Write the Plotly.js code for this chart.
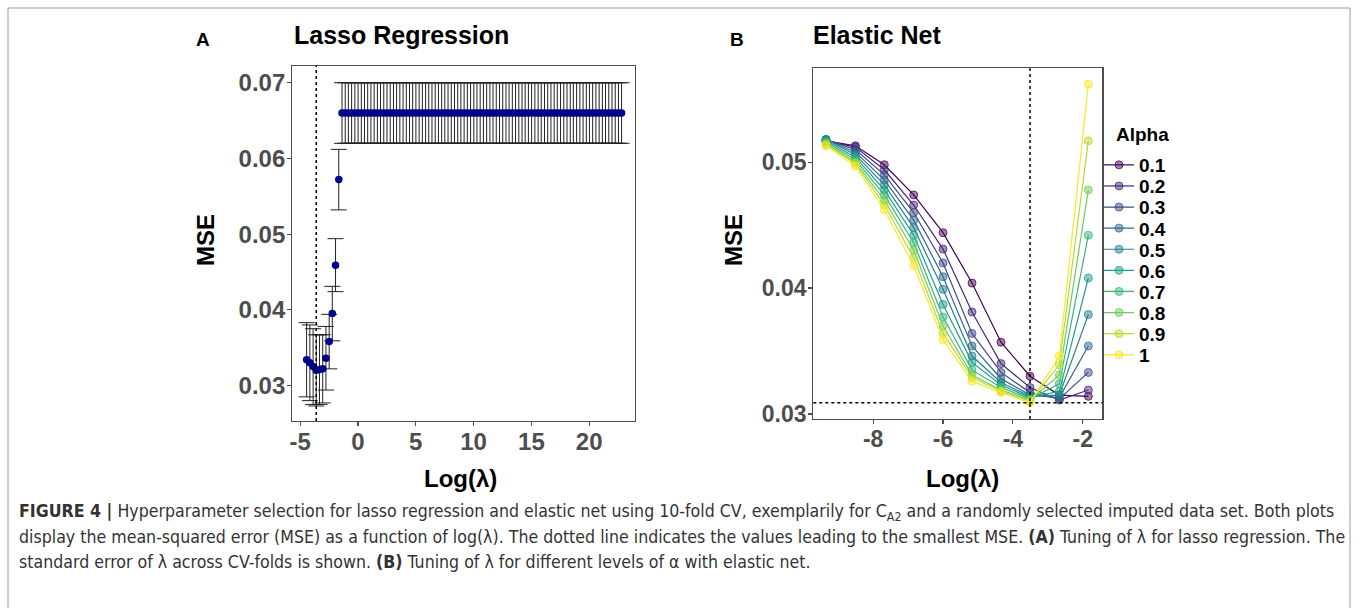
<!DOCTYPE html>
<html>
<head>
<meta charset="utf-8">
<script src="https://cdn.plot.ly/plotly-3.0.1.min.js"></script>
<style>
html,body{margin:0;padding:0;background:#fff;}
#chart{width:1358px;height:608px;}
</style>
</head>
<body>
<div id="chart"></div>
<script>
// ---------- Panel A: lasso regression (cv.glmnet) ----------
const lassoLogLambda = [-4.44,-4.16,-3.88,-3.61,-3.33,-3.05,-2.77,-2.49,-2.22,-1.94,-1.66,-1.38,-1.10,-0.83,-0.55,-0.27,0.01,0.29,0.56,0.84,
1.12,1.40,1.68,1.95,2.23,2.51,2.79,3.07,3.34,3.62,3.90,4.18,4.46,4.73,5.01,5.29,5.57,5.85,6.12,6.40,
6.68,6.96,7.24,7.51,7.79,8.07,8.35,8.63,8.90,9.18,9.46,9.74,10.02,10.29,10.57,10.85,11.13,11.41,11.68,11.96,
12.24,12.52,12.80,13.07,13.35,13.63,13.91,14.19,14.46,14.74,15.02,15.30,15.58,15.85,16.13,16.41,16.69,16.97,17.24,17.52,
17.80,18.08,18.36,18.63,18.91,19.19,19.47,19.75,20.02,20.30,20.58,20.86,21.14,21.41,21.69,21.97,22.25,22.53,22.80];
const lassoMSE = [0.0334,0.0330,0.0325,0.0320,0.0321,0.0322,0.0336,0.0358,0.0395,0.0459,0.0572,0.0660,0.0660,0.0660,0.0660,0.0660,0.0660,0.0660,0.0660,0.0660,
0.0660,0.0660,0.0660,0.0660,0.0660,0.0660,0.0660,0.0660,0.0660,0.0660,0.0660,0.0660,0.0660,0.0660,0.0660,0.0660,0.0660,0.0660,0.0660,0.0660,
0.0660,0.0660,0.0660,0.0660,0.0660,0.0660,0.0660,0.0660,0.0660,0.0660,0.0660,0.0660,0.0660,0.0660,0.0660,0.0660,0.0660,0.0660,0.0660,0.0660,
0.0660,0.0660,0.0660,0.0660,0.0660,0.0660,0.0660,0.0660,0.0660,0.0660,0.0660,0.0660,0.0660,0.0660,0.0660,0.0660,0.0660,0.0660,0.0660,0.0660,
0.0660,0.0660,0.0660,0.0660,0.0660,0.0660,0.0660,0.0660,0.0660,0.0660,0.0660,0.0660,0.0660,0.0660,0.0660,0.0660,0.0660,0.0660,0.0660];
const lassoSE = [0.0049,0.0050,0.0050,0.0047,0.0046,0.0045,0.0042,0.0036,0.0036,0.0035,0.0040,0.0040,0.0040,0.0040,0.0040,0.0040,0.0040,0.0040,0.0040,0.0040,
0.0040,0.0040,0.0040,0.0040,0.0040,0.0040,0.0040,0.0040,0.0040,0.0040,0.0040,0.0040,0.0040,0.0040,0.0040,0.0040,0.0040,0.0040,0.0040,0.0040,
0.0040,0.0040,0.0040,0.0040,0.0040,0.0040,0.0040,0.0040,0.0040,0.0040,0.0040,0.0040,0.0040,0.0040,0.0040,0.0040,0.0040,0.0040,0.0040,0.0040,
0.0040,0.0040,0.0040,0.0040,0.0040,0.0040,0.0040,0.0040,0.0040,0.0040,0.0040,0.0040,0.0040,0.0040,0.0040,0.0040,0.0040,0.0040,0.0040,0.0040,
0.0040,0.0040,0.0040,0.0040,0.0040,0.0040,0.0040,0.0040,0.0040,0.0040,0.0040,0.0040,0.0040,0.0040,0.0040,0.0040,0.0040,0.0040,0.0040];
const lassoLambdaMin = -3.61;
const lassoXTicks = [-5, 0, 5, 10, 15, 20];
const lassoXTickText = ['-5', '0', '5', '10', '15', '20'];
const lassoYTicks = [0.03, 0.04, 0.05, 0.06, 0.07];

// ---------- Panel B: elastic net ----------
const enetLogLambda = [-9.35, -8.51, -7.68, -6.84, -6.00, -5.17, -4.34, -3.51, -2.67, -1.84];
const alphaLabels = ['0.1','0.2','0.3','0.4','0.5','0.6','0.7','0.8','0.9','1'];
const alphaColors = ['#440154','#482878','#3E4A89','#31688E','#26828E','#1F9E89','#35B779','#6DCD59','#B4DE2C','#FDE725'];
const mseAlpha01 = [0.0517,0.0513,0.0498,0.0474,0.0444,0.0404,0.0357,0.0330,0.0315,0.0314];
const mseAlpha02 = [0.0517,0.0512,0.0494,0.0466,0.0431,0.0381,0.0340,0.0321,0.0311,0.0319];
const mseAlpha03 = [0.0518,0.0510,0.0490,0.0460,0.0420,0.0364,0.0333,0.0317,0.0312,0.0333];
const mseAlpha04 = [0.0518,0.0508,0.0486,0.0454,0.0409,0.0354,0.0328,0.0315,0.0313,0.0354];
const mseAlpha05 = [0.0518,0.0506,0.0482,0.0448,0.0399,0.0346,0.0325,0.0314,0.0315,0.0379];
const mseAlpha06 = [0.0517,0.0504,0.0478,0.0442,0.0387,0.0341,0.0323,0.0313,0.0318,0.0408];
const mseAlpha07 = [0.0516,0.0502,0.0474,0.0436,0.0377,0.0335,0.0321,0.0312,0.0324,0.0442];
const mseAlpha08 = [0.0515,0.0500,0.0470,0.0430,0.0370,0.0331,0.0319,0.0311,0.0331,0.0478];
const mseAlpha09 = [0.0514,0.0499,0.0466,0.0424,0.0364,0.0329,0.0318,0.0310,0.0339,0.0517];
const mseAlpha10 = [0.0513,0.0497,0.0462,0.0418,0.0359,0.0326,0.0317,0.0309,0.0346,0.0562];
const enetMSE = [mseAlpha01,mseAlpha02,mseAlpha03,mseAlpha04,mseAlpha05,mseAlpha06,mseAlpha07,mseAlpha08,mseAlpha09,mseAlpha10];
const enetLambdaMin = -3.51;
const enetMinMSE = 0.0309;
const enetXTicks = [-8, -6, -4, -2];
const enetXTickText = ['-8', '-6', '-4', '-2'];
const enetYTicks = [0.03, 0.04, 0.05];

// ---------- geometry helpers (pixel -> paper) ----------
const W = 1358, H = 608;
const px = v => v / W;
const py = v => 1 - v / H;

function hexA(hex, a) {
  const r = parseInt(hex.slice(1,3),16), g = parseInt(hex.slice(3,5),16), b = parseInt(hex.slice(5,7),16);
  return `rgba(${r},${g},${b},${a})`;
}

const FONT = 'Liberation Sans, Arial, Helvetica, sans-serif';
const CAPFONT = 'DejaVu Sans Condensed, Liberation Sans Narrow, Arial Narrow, sans-serif';
const frameColor = '#4D4D4D';

const traces = [];
traces.push({
  type: 'scatter', mode: 'markers', xaxis: 'x', yaxis: 'y',
  x: lassoLogLambda, y: lassoMSE,
  error_y: {type: 'data', array: lassoSE, visible: true, color: '#222222', thickness: 1, width: 8},
  marker: {color: '#00008B', size: 7.5},
  showlegend: false, hoverinfo: 'x+y'
});

const legendLayouts = {};
enetMSE.forEach((vals, i) => {
  const lgName = i === 0 ? 'legend' : 'legend' + (i + 1);
  traces.push({
    type: 'scatter', mode: 'lines+markers', xaxis: 'x2', yaxis: 'y2',
    x: enetLogLambda, y: vals, name: alphaLabels[i], legend: lgName,
    line: {color: alphaColors[i], width: 1.2},
    marker: {color: hexA(alphaColors[i], 0.5), size: 8, line: {color: hexA(alphaColors[i], 0.75), width: 1}},
    showlegend: true
  });
  legendLayouts[lgName] = {
    x: px(1099), y: py(165 + 21.1 * i), xanchor: 'left', yanchor: 'middle',
    font: {family: FONT, size: 19, color: '#000', weight: 'bold'},
    bgcolor: 'rgba(0,0,0,0)', itemwidth: 30, borderwidth: 0
  };
});

const axCommon = {
  showgrid: false, zeroline: false, showline: true, mirror: true,
  linecolor: frameColor, linewidth: 1.2, ticks: 'outside', ticklen: 4, tickwidth: 1.2,
  tickcolor: frameColor, fixedrange: true
};
const tickFontA = {family: FONT, size: 24, color: '#4D4D4D', weight: 'bold'};
const tickFontB = {family: FONT, size: 23, color: '#4D4D4D', weight: 'bold'};

const layout = Object.assign({
  width: W, height: H,
  margin: {l: 0, r: 0, t: 0, b: 0},
  paper_bgcolor: '#ffffff', plot_bgcolor: '#ffffff',
  font: {family: FONT},
  xaxis: Object.assign({}, axCommon, {domain: [px(292.3), px(635)], range: [-5.68, 23.96], tickvals: lassoXTicks, ticktext: lassoXTickText, tickfont: tickFontA, ticklabelstandoff: -5, anchor: 'y'}),
  yaxis: Object.assign({}, axCommon, {domain: [py(421), py(66)], range: [0.02531, 0.07221], tickvals: lassoYTicks, tickformat: '.2f', tickfont: tickFontA, ticklabelstandoff: -3, anchor: 'x'}),
  xaxis2: Object.assign({}, axCommon, {domain: [px(813.3), px(1102.3)], range: [-9.714, -1.44], tickvals: enetXTicks, ticktext: enetXTickText, tickfont: tickFontB, ticklabelstandoff: -5, anchor: 'y2'}),
  yaxis2: Object.assign({}, axCommon, {domain: [py(419), py(68.3)], range: [0.0296, 0.05746], tickvals: enetYTicks, tickformat: '.2f', tickfont: tickFontB, ticklabelstandoff: -3, anchor: 'x2'}),
  shapes: [
    {type: 'line', xref: 'x', yref: 'y domain', x0: lassoLambdaMin, x1: lassoLambdaMin, y0: 0, y1: 1, line: {color: '#000', width: 1.5, dash: 'dot'}},
    {type: 'line', xref: 'x2', yref: 'y2 domain', x0: enetLambdaMin, x1: enetLambdaMin, y0: 0, y1: 1, line: {color: '#000', width: 1.5, dash: 'dot'}},
    {type: 'line', xref: 'x2 domain', yref: 'y2', x0: 0, x1: 1, y0: enetMinMSE, y1: enetMinMSE, line: {color: '#000', width: 1.5, dash: 'dot'}},
    {type: 'rect', xref: 'paper', yref: 'paper', x0: px(8), x1: px(1350), y0: py(640), y1: py(8), line: {color: '#9a9a9a', width: 1}}
  ],
  annotations: [
    {text: '<b>A</b>', x: px(203), y: py(40), xref: 'paper', yref: 'paper', showarrow: false, xanchor: 'center', yanchor: 'middle', font: {family: FONT, size: 19, color: '#000'}},
    {text: '<b>B</b>', x: px(737), y: py(40), xref: 'paper', yref: 'paper', showarrow: false, xanchor: 'center', yanchor: 'middle', font: {family: FONT, size: 19, color: '#000'}},
    {text: '<b>Lasso Regression</b>', x: px(292), y: py(35), xref: 'paper', yref: 'paper', showarrow: false, xanchor: 'left', yanchor: 'middle', font: {family: FONT, size: 25, color: '#000'}},
    {text: '<b>Elastic Net</b>', x: px(811), y: py(35), xref: 'paper', yref: 'paper', showarrow: false, xanchor: 'left', yanchor: 'middle', font: {family: FONT, size: 25, color: '#000'}},
    {text: '<b>MSE</b>', x: px(205), y: py(240), xref: 'paper', yref: 'paper', showarrow: false, textangle: -90, xanchor: 'center', yanchor: 'middle', font: {family: FONT, size: 24, color: '#000'}},
    {text: '<b>MSE</b>', x: px(733), y: py(240), xref: 'paper', yref: 'paper', showarrow: false, textangle: -90, xanchor: 'center', yanchor: 'middle', font: {family: FONT, size: 24, color: '#000'}},
    {text: '<b>Log(λ)</b>', x: px(460), y: py(478), xref: 'paper', yref: 'paper', showarrow: false, xanchor: 'center', yanchor: 'middle', font: {family: FONT, size: 24, color: '#000'}},
    {text: '<b>Log(λ)</b>', x: px(962), y: py(478), xref: 'paper', yref: 'paper', showarrow: false, xanchor: 'center', yanchor: 'middle', font: {family: FONT, size: 24, color: '#000'}},
    {text: '<b>Alpha</b>', x: px(1114), y: py(134), xref: 'paper', yref: 'paper', showarrow: false, xanchor: 'left', yanchor: 'middle', font: {family: FONT, size: 19, color: '#000'}},
    {text: '<b>FIGURE 4 |</b> Hyperparameter selection for lasso regression and elastic net using 10-fold CV, exemplarily for C<sub>A2</sub> and a randomly selected imputed data set. Both plots',
     x: px(17), y: py(512), xref: 'paper', yref: 'paper', showarrow: false, xanchor: 'left', yanchor: 'middle', align: 'left', font: {family: CAPFONT, size: 17.6, color: '#333'}},
    {text: 'display the mean-squared error (MSE) as a function of log(λ). The dotted line indicates the values leading to the smallest MSE. <b>(A)</b> Tuning of λ for lasso regression. The',
     x: px(17), y: py(537), xref: 'paper', yref: 'paper', showarrow: false, xanchor: 'left', yanchor: 'middle', align: 'left', font: {family: CAPFONT, size: 17.6, color: '#333'}},
    {text: 'standard error of λ across CV-folds is shown. <b>(B)</b> Tuning of λ for different levels of α with elastic net.',
     x: px(17), y: py(562), xref: 'paper', yref: 'paper', showarrow: false, xanchor: 'left', yanchor: 'middle', align: 'left', font: {family: CAPFONT, size: 17.6, color: '#333'}}
  ]
}, legendLayouts);

Plotly.newPlot('chart', traces, layout, {displayModeBar: false, staticPlot: true});
</script>
</body>
</html>
